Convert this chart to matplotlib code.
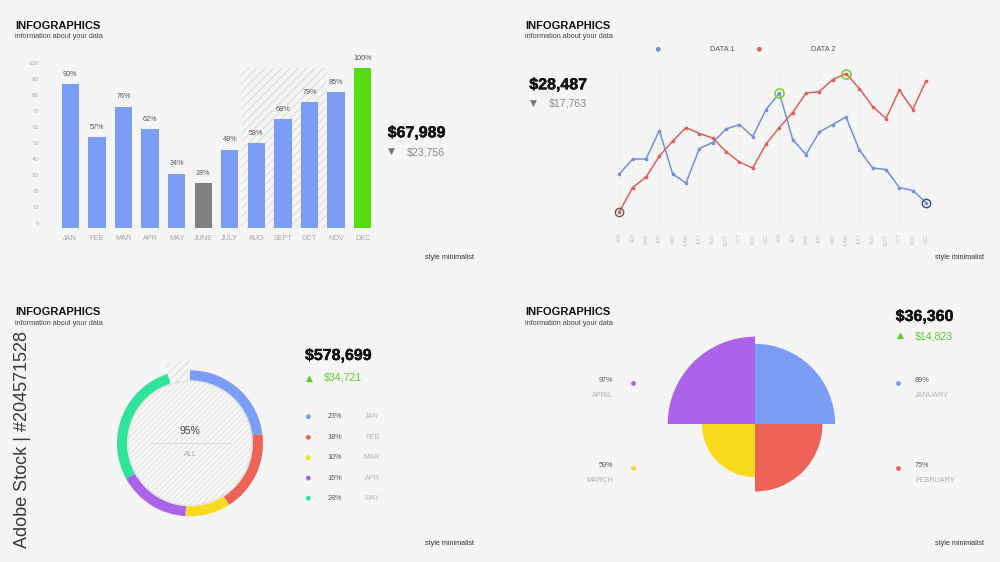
import numpy as np
import matplotlib
matplotlib.use('Agg')
import matplotlib.pyplot as plt
import matplotlib.patheffects as pe
from matplotlib.transforms import ScaledTranslation

plt.rcParams['font.family'] = ['Liberation Sans', 'DejaVu Sans']
plt.rcParams['hatch.linewidth'] = 0.6

W, H = 1000, 562

# ---- data ----
bar_months = ['JAN', 'FEB', 'MAR', 'APR', 'MAY', 'JUNE', 'JULY', 'AUG', 'SEPT', 'OCT', 'NOV', 'DEC']
bar_values = [90, 57, 76, 62, 34, 28, 49, 53, 68, 79, 85, 100]
bar_ticks = list(range(0, 101, 10))

line_months = ['JAN', 'FEB', 'MAR', 'APR', 'MAY', 'JUNE', 'JULY', 'AUG', 'SEPT', 'OCT', 'NOV', 'DEC'] * 2
data1 = [34, 44, 44, 63, 34, 28, 51, 55, 64, 67, 59, 77, 88, 57, 47, 62, 67, 72, 50, 38, 37, 25, 23, 15]
data2 = [9, 25, 32, 46, 56, 65, 61, 58, 49, 42, 38, 54, 65, 75, 88, 89, 97, 101, 91, 79, 71, 90, 77, 96]

donut_labels = ['JAN', 'FEB', 'MAR', 'APR', 'MAY']
donut_values = [23, 18, 10, 16, 28]

rose_labels = ['JANUARY', 'FEBRUARY', 'MARCH', 'APRIL']
rose_values = [89, 75, 59, 97]

BLUE = '#7b9df5'
RED = '#ef6257'
YELLOW = '#f8da1f'
PURPLE = '#aa63e9'
MINT = '#31e29b'
GREEN_TXT = '#5ccc28'
BIG = dict(fontsize=11.5, fontweight='bold', color='#111111', va='baseline',
           path_effects=[pe.withStroke(linewidth=0.3, foreground='#111111')])

fig = plt.figure(figsize=(10, 5.62), dpi=100, facecolor='#f5f5f5')


def px_axes(left, top, right, bottom, **kw):
    return fig.add_axes([left / W, 1 - bottom / H, (right - left) / W, (bottom - top) / H], **kw)


# ---- panel 1: bars ----
ax1 = px_axes(57, 68.3, 376, 227.7)
ax1.set_facecolor('none')
x = np.arange(len(bar_values))
ax1.axvspan(6.44, 9.66, facecolor='none', edgecolor='#d6d6d6', linewidth=0, hatch='////', zorder=0)
cols = [BLUE] * len(bar_values)
cols[5] = '#808080'
cols[-1] = '#55dd10'
ax1.bar(x, bar_values, width=0.65, color=cols, zorder=2)
for xi, v in zip(x, bar_values):
    ax1.annotate(f'{v}%', (xi, v), xytext=(0, 4.5), textcoords='offset points',
                 ha='center', va='bottom', fontsize=5.2, color='#555555')
ax1.set_xlim(-0.5, 11.5)
ax1.set_ylim(0, 100)
ax1.set_xticks(x, bar_months)
ax1.set_yticks(bar_ticks)
ax1.tick_params(axis='x', length=0, pad=5, labelsize=5.2, labelcolor='#a8a8a8')
ax1.tick_params(axis='y', length=0, pad=13, labelsize=4.3, labelcolor='#b5b5b5')
off = ScaledTranslation(0, 5 / 100, fig.dpi_scale_trans)
for lab in ax1.get_yticklabels():
    lab.set_transform(lab.get_transform() + off)
for s in ax1.spines.values():
    s.set_visible(False)

# ---- panel 2: lines ----
ax2 = px_axes(612.7, 68, 932.7, 225)
ax2.set_facecolor('none')
xl = np.arange(len(data1))
ax2.plot(xl, data1, color='#7190dd', lw=1.1, marker='o', ms=1.6, zorder=3)
ax2.plot(xl, data2, color='#df5f5b', lw=1.1, marker='o', ms=1.6, zorder=3)
ax2.plot(xl[0], data2[0], 'o', mfc='none', mec='#7a5555', ms=6, mew=1, zorder=4)
ax2.plot(xl[-1], data1[-1], 'o', mfc='none', mec='#3f4f7a', ms=6, mew=1, zorder=4)
ax2.plot(xl[12], data1[12], 'o', mfc='none', mec='#74d03a', ms=6.5, mew=1.2, zorder=4)
ax2.plot(xl[17], data2[17], 'o', mfc='none', mec='#74d03a', ms=6.5, mew=1.2, zorder=4)
ax2.set_xlim(-0.5, 23.5)
ax2.set_ylim(0, 104.7)
ax2.set_xticks(xl, line_months, rotation=90)
ax2.set_yticks([])
ax2.tick_params(axis='x', length=0, pad=6, labelsize=3.4, labelcolor='#c4c4c4')
ax2.grid(axis='x', color='#f0f0f0', lw=0.6, zorder=0)
for s in ax2.spines.values():
    s.set_visible(False)

# ---- panel 3: donut ----
R = 73.0
half = 1.25 * R
ax3 = px_axes(190 - half, 443.3 - half, 190 + half, 443.3 + half)
ax3.set_facecolor('none')
gap = 100 - sum(donut_values)
ax3.pie([1], radius=62 / R, colors=['#f7f7f7'], startangle=90,
        wedgeprops=dict(edgecolor='#e2e2e2', linewidth=0.9, hatch='//////'))
hw, _ = ax3.pie([sum(donut_values), gap], radius=83 / R, colors=['none', 'none'],
                startangle=90, counterclock=False, wedgeprops=dict(width=21 / R, linewidth=0))
hw[0].set_visible(False)
hw[1].set_hatch('////')
hw[1].set_edgecolor('#d8d8d8')
ax3.pie(donut_values + [gap], radius=1, colors=[BLUE, RED, YELLOW, PURPLE, MINT, 'none'],
        startangle=90, counterclock=False, wedgeprops=dict(width=10 / R, linewidth=0))
ax3.plot([-0.55, 0.55], [0, 0], color='#dedede', lw=0.8)
ax3.text(0, 12.3 / R, f'{sum(donut_values)}%', ha='center', va='center', fontsize=7.5, color='#444444')
ax3.text(0, -11.7 / R, 'ALL', ha='center', va='center', fontsize=5.2, color='#aaaaaa')
ax3.set_xlim(-1.25, 1.25)
ax3.set_ylim(-1.25, 1.25)
ax3.axis('off')

# ---- panel 4: quarter rose ----
ax4 = px_axes(665, 334, 845, 514, projection='polar')
theta = np.deg2rad([90 - 90 * (i + 1) for i in range(len(rose_values))])
ax4.bar(theta, rose_values, width=np.pi / 2, align='edge',
        color=[BLUE, RED, YELLOW, PURPLE], linewidth=0)
ax4.set_ylim(0, 100)
ax4.set_axis_off()

# ---- overlay texts ----
ov = fig.add_axes([0, 0, 1, 1])
ov.set_xlim(0, W)
ov.set_ylim(H, 0)
ov.axis('off')

for tx, ty in [(15, 28.7), (525, 28.7), (15, 315.3), (525, 315.3)]:
    ov.text(tx, ty, 'INFOGRAPHICS', fontsize=8, fontweight='bold', color='#111111', va='baseline')
    ov.text(tx, ty + 9.8, 'information about your data', fontsize=5.2, color='#444444', va='baseline')
for tx, ty in [(474, 258.7), (984, 258.7), (474, 545.3), (984, 545.3)]:
    ov.text(tx, ty, 'style minimalist', fontsize=5.2, color='#333333', ha='right', va='baseline')

TRI = dict(fontsize=6.5, ha='center', va='center', family=['DejaVu Sans'])

# panel 1 figures
ov.text(387.7, 137.3, '$67,989', **BIG)
ov.text(391.7, 151, '▼', color='#777777', **TRI)
ov.text(407.3, 155.3, '$23,756', fontsize=7.6, color='#8a8a8a', va='baseline')

# panel 2 figures + legend
ov.text(529.3, 89.3, '$28,487', **BIG)
ov.text(533.7, 103.3, '▼', color='#777777', **TRI)
ov.text(549.3, 107, '$17,763', fontsize=7.6, color='#8a8a8a', va='baseline')
ov.scatter([658.3, 759.3], [49.3, 49.3], s=12, color=['#7190dd', '#df5f5b'], linewidths=0)
ov.text(710, 49.3, 'DATA 1', fontsize=5.3, color='#555555', va='center')
ov.text(810.7, 49.3, 'DATA 2', fontsize=5.3, color='#555555', va='center')

# panel 3 figures + legend
ov.text(305, 360, '$578,699', **BIG)
ov.text(309.3, 378.3, '▲', color=GREEN_TXT, **TRI)
ov.text(324.3, 381, '$34,721', fontsize=7.6, color=GREEN_TXT, va='baseline')
rows = [416.7, 437.3, 457.7, 478, 498.3]
ov.scatter([308.3] * len(rows), rows, s=12, color=[BLUE, RED, YELLOW, PURPLE, MINT], linewidths=0)
for ry, v, lab in zip(rows, donut_values, donut_labels):
    ov.text(327.7, ry, f'{v}%', fontsize=5.2, color='#555555', va='center')
    ov.text(372, ry, lab, fontsize=5.2, color='#b8b8b8', ha='center', va='center')

# panel 4 figures + legend
ov.text(895.7, 321, '$36,360', **BIG)
ov.text(900, 335, '▲', color=GREEN_TXT, **TRI)
ov.text(915, 339.3, '$14,823', fontsize=7.6, color=GREEN_TXT, va='baseline')
rose_pos = {'JANUARY': (897.7, 383, 'left'), 'FEBRUARY': (897.7, 467.7, 'left'),
            'MARCH': (633.3, 467.7, 'right'), 'APRIL': (633.3, 383, 'right')}
rose_cols = dict(zip(rose_labels, [BLUE, RED, YELLOW, PURPLE]))
for lab, v in zip(rose_labels, rose_values):
    dx, dy, side = rose_pos[lab]
    ov.scatter([dx], [dy], s=12, color=rose_cols[lab], linewidths=0)
    tx = 915 if side == 'left' else 613.3
    ov.text(tx, dy - 2, f'{v}%', fontsize=5.2, color='#555555', ha=side, va='center')
    ov.text(tx, dy + 12.5, lab, fontsize=5.2, color='#b0b0b0', ha=side, va='center')

# stock watermark strip on the left
ov.text(23, 439, 'Adobe Stock | #204571528', rotation=90, fontsize=13,
        color='#3a3a3a', ha='center', va='center')

fig.savefig('out.png', dpi=100, facecolor=fig.get_facecolor())
